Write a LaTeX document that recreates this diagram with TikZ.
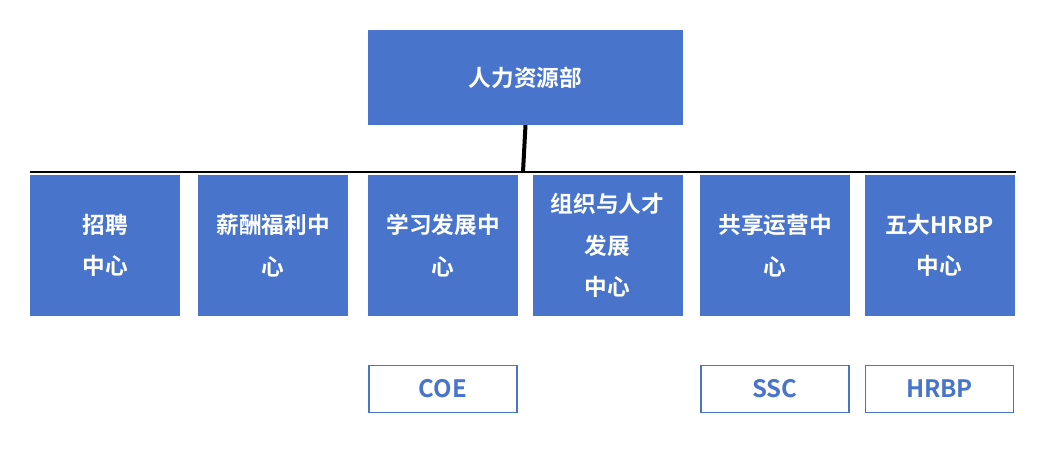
\documentclass[tikz,border=0pt]{standalone}
\usepackage{fontspec}
\newfontfamily\cjk{Noto Sans CJK SC}[BoldFont={* Bold}]
\definecolor{hrblue}{HTML}{4874CB}
\begin{document}
\begin{tikzpicture}[x=0.75pt,y=-0.75pt,
  dept/.style={fill=hrblue,text=white,font=\cjk\bfseries\fontsize{17}{31}\selectfont,
    align=center,inner sep=0pt,minimum width=112.5pt,minimum height=105.75pt},
  tag/.style={draw=hrblue,line width=1.2pt,fill=white,text=hrblue,
    font=\cjk\bfseries\fontsize{18}{22}\selectfont,inner sep=0pt,
    minimum width=111pt,minimum height=35pt}]
\useasboundingbox (0,0) rectangle (1051,461);
\node[dept,minimum width=236pt,minimum height=71pt] (hr) at (525.5,77.5) {人力资源部};
\coordinate (mid) at (523,172);
\draw[line width=3pt] (hr.south) -- (mid);
\draw[line width=2pt] (30,172) -- (1016,172);
\node[dept] (zp) at (105,245.5) {招聘\\中心};
\node[dept] (xc) at (273,245.5) {薪酬福利中\\心};
\node[dept] (xx) at (443,245.5) {学习发展中\\心};
\node[dept] (zz) at (607.5,245.5) {组织与人才\\发展\\中心};
\node[dept] (gx) at (775,245.5) {共享运营中\\心};
\node[dept] (wd) at (939.5,245.5) {五大HRBP\\中心};
\node[tag] (coe) at (443,389) {COE};
\node[tag] (ssc) at (775,389) {SSC};
\node[tag] (hrbp) at (939.5,389) {HRBP};
\end{tikzpicture}
\end{document}
